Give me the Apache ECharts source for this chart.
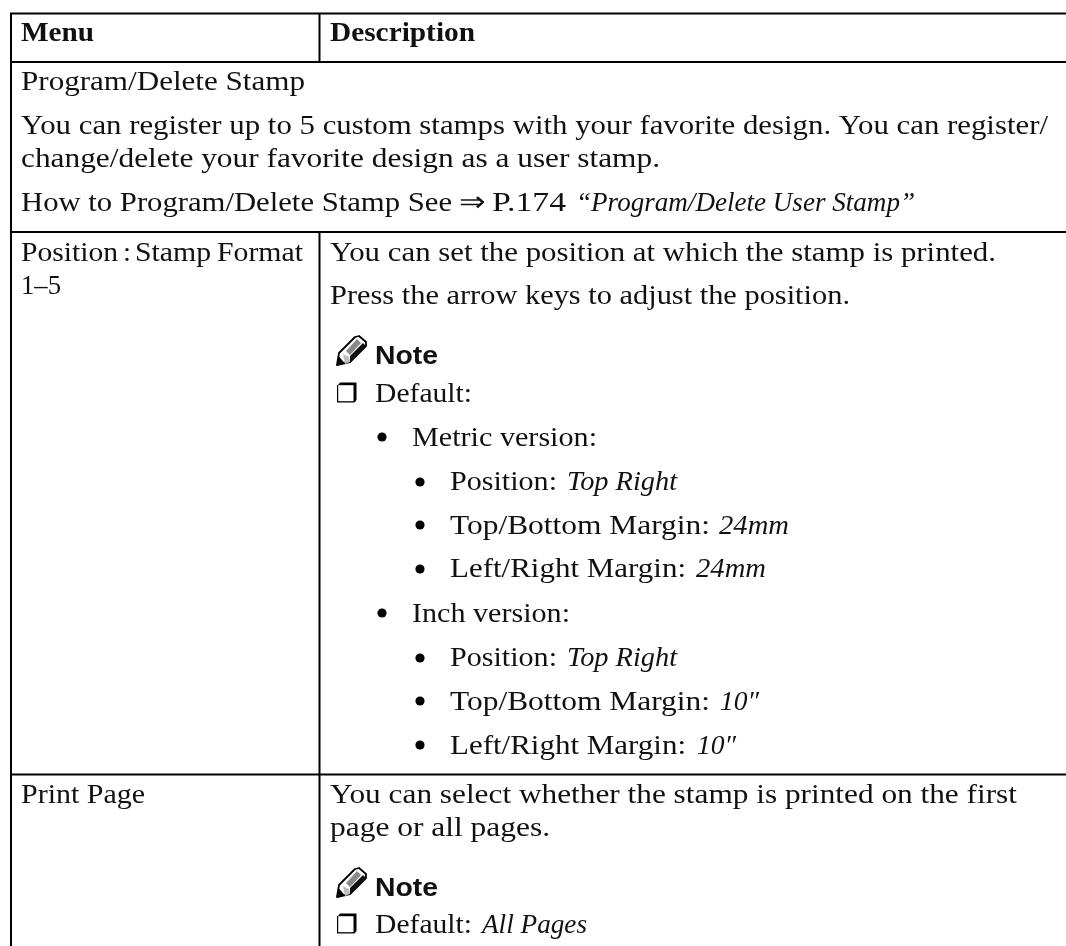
<!DOCTYPE html>
<html><head><meta charset="utf-8">
<style>html,body{margin:0;padding:0;background:#fff}#c{width:1066px;height:946px}</style>
<script src="https://cdn.jsdelivr.net/npm/echarts@6/dist/echarts.min.js"></script>
</head><body><div id="c"></div>
<script>
// ---- content ----
const headerTexts = ["Menu", "Description"];
const sectionTexts = ["Program/Delete Stamp",
  "You can register up to 5 custom stamps with your favorite design. You can register/",
  "change/delete your favorite design as a user stamp.",
  "How to Program/Delete Stamp See", "⇒", "P.174", "“Program/Delete User Stamp”"];
const positionMenuTexts = ["Position", ":", "Stamp", "Format", "1–5"];
const positionDescTexts = ["You can set the position at which the stamp is printed.",
  "Press the arrow keys to adjust the position.", "Note", "Default:",
  "Metric version:", "Position:", "Top Right", "Top/Bottom Margin:", "24mm", "Left/Right Margin:", "24mm",
  "Inch version:", "Position:", "Top Right", "Top/Bottom Margin:", "10″", "Left/Right Margin:", "10″"];
const printMenuTexts = ["Print Page"];
const printDescTexts = ["You can select whether the stamp is printed on the first",
  "page or all pages.", "Note", "Default:", "All Pages"];
const allTexts = [].concat(headerTexts, sectionTexts, positionMenuTexts, positionDescTexts, printMenuTexts, printDescTexts);

// ---- layout (page units) ----
const SERIF = '28px "Liberation Serif"', ITAL = 'italic 28px "Liberation Serif"',
      BOLD = 'bold 28px "Liberation Serif"', NOTE = 'bold 26px "Liberation Sans"';
const textFonts = [BOLD, BOLD,
  SERIF, SERIF, SERIF, SERIF, SERIF, SERIF, ITAL,
  SERIF, SERIF, SERIF, SERIF, SERIF,
  SERIF, SERIF, NOTE, SERIF,
  SERIF, SERIF, ITAL, SERIF, ITAL, SERIF, ITAL,
  SERIF, SERIF, ITAL, SERIF, ITAL, SERIF, ITAL,
  SERIF,
  SERIF, SERIF, NOTE, SERIF, ITAL];
const textBoxes = [ // left, right, baseline
  [21,94,43],[330,475,43],
  [21,305,92],[21,1048,136],[21,660,169],[21,452,213],[459,485,213],[492,566,213],[576,915,213],
  [21,118,263],[123,131,263],[135,211,263],[217,303,263],[21,61,296],
  [330,996,263],[330,850,306],[375,438,366],[375,472,404],
  [412,597,448],[450,557,492],[567,677,492],[450,710,536],[719,789,536],[450,686,579],[696,766,579],
  [412,570,624],[450,557,668],[567,677,668],[450,710,712],[720,759,712],[450,686,756],[697,736,756],
  [21,145,805],
  [330,1017,805],[330,550,838],[375,438,898],[375,472,935],[482,587,935]];
const ruleSegments = [
  [10,13.5,1066,13.5],[10,62,1066,62],[10,232,1066,232],[10,774.5,1066,774.5],
  [11,13,11,946],[319.5,13,319.5,62],[319.5,232,319.5,946]];
const bulletPoints = [[382,437],[420,482],[420,525],[420,569],[382,613],[420,658],[420,701],[420,745]];
const noteIcons = [[337,336],[337,868]];
const checkBoxes = [[337,384],[337,915]];

const ctx = document.createElement('canvas').getContext('2d');
function fit(text, font, w){ ctx.font = font; return w / ctx.measureText(text).width; }
function fontSize(font){ return parseFloat(font.match(/(\d+)px/)[1]); }

function renderText(p, api){
  const i = api.value(0), b = textBoxes[i], font = textFonts[i];
  const p0 = api.coord([b[0], b[2]]), p1 = api.coord([b[1], b[2]]);
  return {type:'text', x:p0[0], y:p0[1]-0.3375*fontSize(font),
    scaleX: fit(allTexts[i], font, p1[0]-p0[0]), silent:true,
    style:{text:allTexts[i], x:0, y:0, font:font, fill:'#111', textAlign:'left', textVerticalAlign:'middle'}};
}
function renderRule(p, api){
  const a = api.coord([api.value(0), api.value(1)]), b = api.coord([api.value(2), api.value(3)]);
  return {type:'line', silent:true, shape:{x1:a[0],y1:a[1],x2:b[0],y2:b[1]}, style:{stroke:'#000', lineWidth:2}};
}
function renderBullet(p, api){
  const c = api.coord([api.value(0), api.value(1)]);
  return {type:'circle', silent:true, shape:{cx:c[0],cy:c[1],r:4.6}, style:{fill:'#000'}};
}
function renderBox(p, api){
  const c = api.coord([api.value(0), api.value(1)]);
  return {type:'group', x:c[0], y:c[1], silent:true, children:[
    {type:'polygon', shape:{points:[[1,1],[3,-1.5],[19.5,-1.5],[19.5,16],[17.5,18.5],[0,18.5],[0,1]]}, style:{fill:'#000'}},
    {type:'rect', shape:{x:1.2,y:1.2,width:15.3,height:16}, style:{fill:'#fff'}}
  ]};
}
function renderPencil(p, api){
  const c = api.coord([api.value(0), api.value(1)]);
  return {type:'group', x:c[0], y:c[1], silent:true, children:[
    {type:'polygon', shape:{points:[[0,29],[2,17],[18,1],[22,0],[29,6],[29,10],[13,26]]}, style:{fill:'#fff', stroke:'#000', lineWidth:1.8, lineJoin:'round'}},
    {type:'polygon', shape:{points:[[9,15],[20,3],[24,7],[13,19]]}, style:{fill:'#8a8a8a'}},
    {type:'polygon', shape:{points:[[13,20],[26,7],[29,10],[13,26]]}, style:{fill:'#111'}},
    {type:'polygon', shape:{points:[[6,18],[12,21],[13,26],[8,28]]}, style:{fill:'#bdbdbd'}},
    {type:'polygon', shape:{points:[[0,29],[1.5,20],[8,27.5]]}, style:{fill:'#000'}}
  ]};
}
const common = {type:'custom', coordinateSystem:'cartesian2d', clip:false, animation:false, silent:true};
const chart = echarts.init(document.getElementById('c'), null, {renderer:'canvas'});
chart.setOption({
  backgroundColor:'#fff', animation:false,
  grid:{left:0,right:0,top:0,bottom:0},
  xAxis:{type:'value',min:0,max:1066,show:false},
  yAxis:{type:'value',min:0,max:946,inverse:true,show:false},
  series:[
    Object.assign({},common,{name:'rules',renderItem:renderRule,data:ruleSegments,encode:{x:[0,2],y:[1,3]}}),
    Object.assign({},common,{name:'text',renderItem:renderText,data:allTexts.map((t,i)=>[i]),encode:{x:0}}),
    Object.assign({},common,{name:'bullets',renderItem:renderBullet,data:bulletPoints}),
    Object.assign({},common,{name:'boxes',renderItem:renderBox,data:checkBoxes}),
    Object.assign({},common,{name:'notes',renderItem:renderPencil,data:noteIcons})
  ]
});
</script></body></html>
